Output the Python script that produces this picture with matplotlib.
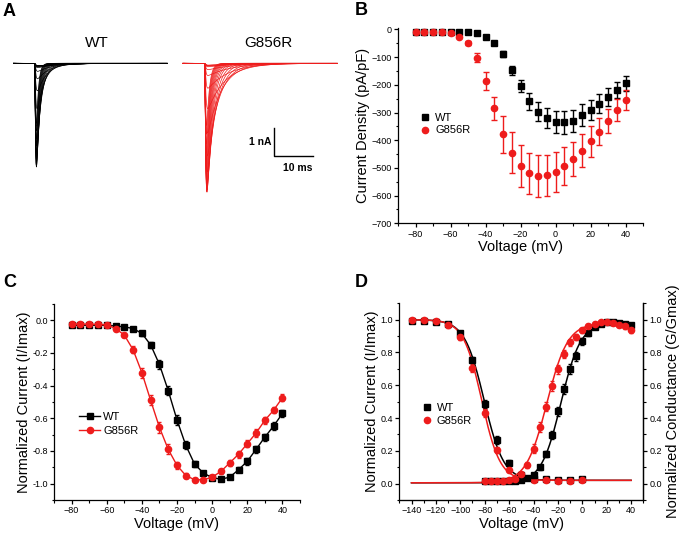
import numpy as np
import matplotlib
matplotlib.use('Agg')
from matplotlib import pyplot as plt
import matplotlib.ticker as ticker
from matplotlib.lines import Line2D

plt.rcParams['font.family'] = ['Liberation Sans', 'DejaVu Sans']

# ---- data ----
voltage_iv = np.arange(-80, 45, 5)

# B: current density (pA/pF)
wt_density = [-8, -8, -8, -8, -8, -11, -11, -14, -26, -50, -89, -147, -204, -259, -297,
              -319, -333, -336, -330, -309, -291, -268, -245, -219, -195]
wt_density_err = [3, 3, 3, 3, 3, 3, 3, 4, 5, 6, 10, 16, 23, 31, 34,
                  36, 40, 40, 40, 38, 36, 34, 32, 30, 26]
g856r_density = [-8, -8, -8, -11, -14, -26, -50, -102, -186, -285, -379, -445, -493, -520, -529,
                 -526, -514, -493, -468, -438, -404, -369, -331, -291, -255]
g856r_density_err = [3, 3, 3, 3, 3, 4, 8, 17, 33, 42, 67, 74, 75, 74, 76,
                     74, 72, 69, 63, 59, 55, 49, 44, 41, 36]

# C: normalized current (I/Imax)
wt_norm = [-0.03, -0.03, -0.03, -0.03, -0.03, -0.035, -0.04, -0.05, -0.08, -0.15, -0.27, -0.43,
           -0.61, -0.765, -0.88, -0.935, -0.963, -0.973, -0.96, -0.915, -0.863, -0.79, -0.715,
           -0.647, -0.57]
wt_norm_err = [0.01, 0.01, 0.01, 0.01, 0.01, 0.01, 0.01, 0.012, 0.015, 0.02, 0.025, 0.03,
               0.03, 0.025, 0.02, 0.015, 0.012, 0.01, 0.012, 0.015, 0.02, 0.022, 0.022,
               0.022, 0.022]
g856r_norm = [-0.023, -0.023, -0.023, -0.025, -0.027, -0.05, -0.09, -0.18, -0.32, -0.49, -0.655,
              -0.79, -0.888, -0.95, -0.976, -0.976, -0.96, -0.925, -0.873, -0.82, -0.755, -0.69,
              -0.612, -0.55, -0.474]
g856r_norm_err = [0.01, 0.01, 0.01, 0.01, 0.01, 0.01, 0.012, 0.02, 0.03, 0.03, 0.035, 0.03,
                  0.02, 0.015, 0.012, 0.01, 0.012, 0.015, 0.02, 0.022, 0.022, 0.022,
                  0.022, 0.02, 0.02]

# D: steady-state inactivation (I/Imax)
voltage_inact = np.arange(-140, 10, 10)
wt_inact = [0.99, 0.99, 0.985, 0.975, 0.918, 0.755, 0.485, 0.265, 0.127, 0.05, 0.03,
            0.027, 0.025, 0.025, 0.027]
wt_inact_err = [0.01, 0.01, 0.01, 0.012, 0.015, 0.02, 0.025, 0.025, 0.02, 0.012, 0.01,
                0.01, 0.01, 0.01, 0.01]
g856r_inact = [0.996, 0.996, 0.99, 0.965, 0.894, 0.704, 0.433, 0.204, 0.085, 0.035, 0.024,
               0.02, 0.018, 0.018, 0.02]
g856r_inact_err = [0.01, 0.01, 0.01, 0.015, 0.02, 0.025, 0.025, 0.02, 0.015, 0.01, 0.008,
                   0.008, 0.008, 0.008, 0.008]

# D: activation (G/Gmax)
wt_act = [0.014, 0.014, 0.014, 0.014, 0.014, 0.015, 0.02, 0.035, 0.05, 0.1, 0.18, 0.296,
          0.44, 0.578, 0.698, 0.776, 0.867, 0.918, 0.955, 0.975, 0.984, 0.986, 0.98,
          0.973, 0.965]
wt_act_err = [0.005, 0.005, 0.005, 0.005, 0.005, 0.005, 0.006, 0.008, 0.01, 0.015, 0.02, 0.025,
              0.03, 0.03, 0.03, 0.025, 0.02, 0.015, 0.012, 0.01, 0.01, 0.01, 0.01, 0.01, 0.012]
g856r_act = [0.014, 0.014, 0.014, 0.015, 0.02, 0.03, 0.06, 0.116, 0.214, 0.343, 0.47, 0.596,
             0.698, 0.792, 0.861, 0.894, 0.935, 0.959, 0.973, 0.984, 0.984, 0.98, 0.97,
             0.959, 0.939]
g856r_act_err = [0.005, 0.005, 0.005, 0.005, 0.006, 0.008, 0.012, 0.018, 0.025, 0.03, 0.03,
                 0.03, 0.028, 0.025, 0.02, 0.018, 0.015, 0.012, 0.01, 0.01, 0.01, 0.01, 0.012,
                 0.015, 0.018]

# Boltzmann fit parameters (V1/2, slope k)
wt_inact_fit = (-80.5, 8.0)
g856r_inact_fit = (-82.5, 7.5)
wt_act_fit = (-17.5, 8.0)
g856r_act_fit = (-29.0, 8.5)

# A: sweep parameters (peak current nA scaled from B, inactivation tau ms)
wt_peak_na = 3.7
g856r_peak_na = 4.6
wt_tau_h = [6.0, 6.0, 6.0, 6.0, 6.0, 5.8, 5.4, 4.8, 4.0, 3.2, 2.5, 1.9, 1.5, 1.25, 1.05,
            0.92, 0.83, 0.76, 0.7, 0.65, 0.61, 0.58, 0.55, 0.52, 0.5]
g856r_tau_h = [7.5, 7.5, 7.5, 7.5, 7.2, 6.8, 6.2, 5.4, 4.5, 3.6, 2.9, 2.4, 2.0, 1.7, 1.45,
               1.28, 1.14, 1.03, 0.95, 0.88, 0.82, 0.77, 0.73, 0.7, 0.67]

W, H = 683, 536
RED = '#ee1c1c'


def px_axes(fig, left, top, right, bottom):
    return fig.add_axes([left / W, 1 - bottom / H, (right - left) / W, (bottom - top) / H])


def style_axe(ax, right=False):
    ax.spines['top'].set_visible(False)
    if not right:
        ax.spines['right'].set_visible(False)
    for s in ax.spines.values():
        s.set_linewidth(0.9)
    ax.tick_params(which='major', direction='out', length=3, width=0.9, pad=1.5, labelsize=6.5)
    ax.tick_params(which='minor', direction='out', length=1.8, width=0.8)


def sweep(t, peak, tau_h, t0=5.5, tau_m=0.2):
    tt = np.clip(t - t0, 0, None)
    shape = (1 - np.exp(-tt / tau_m)) ** 3 * np.exp(-tt / tau_h)
    return -peak * shape / shape.max()


def handles(line=False):
    ls = '-' if line else 'none'
    return [Line2D([], [], color='black', marker='s', ms=4, ls=ls, lw=1.0),
            Line2D([], [], color=RED, marker='o', ms=4.5, ls=ls, lw=1.0)]


fig = plt.figure(figsize=(W / 100, H / 100), dpi=100)

# ---- A ----
axa = px_axes(fig, 13, 30, 338, 200)
axa.axis('off')
axa.set_xlim(0, 83.33)
axa.set_ylim(-4.88, 1.19)
t = np.linspace(0, 39.5, 4000)
wt_rel = np.array(wt_density) / min(wt_density)
g_rel = np.array(g856r_density) / min(g856r_density)
for i in range(len(voltage_iv)):
    axa.plot(t, sweep(t, wt_peak_na * wt_rel[i], wt_tau_h[i]), color='black', lw=0.5)
    axa.plot(t + 43.6, sweep(t, g856r_peak_na * g_rel[i], g856r_tau_h[i]), color=RED, lw=0.5)
axa.text(21.5, 0.72, 'WT', ha='center', va='center', fontsize=11)
axa.text(65.4, 0.72, 'G856R', ha='center', va='center', fontsize=11)
axa.plot([66.9, 66.9, 76.9], [-2.31, -3.31, -3.31], color='black', lw=1.0)
axa.text(66.4, -2.81, '1 nA', ha='right', va='center', fontsize=7.5, fontweight='bold')
axa.text(73.0, -3.72, '10 ms', ha='center', va='center', fontsize=7.5, fontweight='bold')

# ---- B ----
axb = px_axes(fig, 398, 28.3, 643, 223.3)
style_axe(axb)
axb.errorbar(voltage_iv, wt_density, yerr=wt_density_err, fmt='s', color='black', ms=4,
             elinewidth=1.0, capsize=2, capthick=1.0)
axb.errorbar(voltage_iv, g856r_density, yerr=g856r_density_err, fmt='o', color=RED, ms=4.5,
             elinewidth=1.0, capsize=2, capthick=1.0)
axb.set_xlim(-90, 50)
axb.set_ylim(-700, 4)
axb.xaxis.set_major_locator(ticker.MultipleLocator(20))
axb.xaxis.set_minor_locator(ticker.MultipleLocator(10))
axb.yaxis.set_major_locator(ticker.MultipleLocator(100))
axb.yaxis.set_minor_locator(ticker.MultipleLocator(50))
axb.set_xlabel('Voltage (mV)', fontsize=10.5, labelpad=1)
axb.set_ylabel('Current Density (pA/pF)', fontsize=10.5, labelpad=1)
axb.legend(handles(), ['WT', 'G856R'], loc='upper left', bbox_to_anchor=(0.08, 0.59),
           frameon=False, fontsize=8, handlelength=0.6, handletextpad=0.6,
           labelspacing=0.25, borderaxespad=0)

# ---- C ----
axc = px_axes(fig, 54, 304, 300, 500)
style_axe(axc)
axc.errorbar(voltage_iv, wt_norm, yerr=wt_norm_err, fmt='-s', color='black', ms=4, lw=1.0,
             elinewidth=1.0, capsize=1.5)
axc.errorbar(voltage_iv, g856r_norm, yerr=g856r_norm_err, fmt='-o', color=RED, ms=4.5, lw=1.0,
             elinewidth=1.0, capsize=1.5)
axc.set_xlim(-90, 50)
axc.set_ylim(-1.1, 0.1)
axc.xaxis.set_major_locator(ticker.MultipleLocator(20))
axc.xaxis.set_minor_locator(ticker.MultipleLocator(10))
axc.yaxis.set_major_locator(ticker.MultipleLocator(0.2))
axc.yaxis.set_minor_locator(ticker.MultipleLocator(0.1))
axc.yaxis.set_major_formatter(ticker.FormatStrFormatter('%.1f'))
axc.set_xlabel('Voltage (mV)', fontsize=10.5, labelpad=1)
axc.set_ylabel('Normalized Current (I/Imax)', fontsize=10.5, labelpad=1)
axc.legend(handles(True), ['WT', 'G856R'], loc='upper left', bbox_to_anchor=(0.085, 0.47),
           frameon=False, fontsize=8, handlelength=1.9, handletextpad=0.25,
           labelspacing=0.3, borderaxespad=0)

# ---- D ----
axd = px_axes(fig, 399.3, 303.3, 643.3, 500)
style_axe(axd, right=True)
vfit = np.linspace(-140, 40, 400)
for (vh, k), col in ((wt_inact_fit, 'black'), (g856r_inact_fit, RED)):
    axd.plot(vfit, 0.98 / (1 + np.exp((vfit - vh) / k)) + 0.02, color=col, lw=1.1)
for (vh, k), col in ((wt_act_fit, 'black'), (g856r_act_fit, RED)):
    axd.plot(vfit, 0.975 / (1 + np.exp((vh - vfit) / k)) + 0.005, color=col, lw=1.1)
axd.errorbar(voltage_inact, wt_inact, yerr=wt_inact_err, fmt='s', color='black', ms=4,
             elinewidth=1.0, capsize=1.5)
axd.errorbar(voltage_inact, g856r_inact, yerr=g856r_inact_err, fmt='o', color=RED, ms=4.5,
             elinewidth=1.0, capsize=1.5)
axd.errorbar(voltage_iv, wt_act, yerr=wt_act_err, fmt='s', color='black', ms=4,
             elinewidth=1.0, capsize=1.5)
axd.errorbar(voltage_iv, g856r_act, yerr=g856r_act_err, fmt='o', color=RED, ms=4.5,
             elinewidth=1.0, capsize=1.5)
axd.set_xlim(-150, 50)
axd.set_ylim(-0.1, 1.1)
axd.xaxis.set_major_locator(ticker.MultipleLocator(20))
axd.xaxis.set_minor_locator(ticker.MultipleLocator(10))
axd.yaxis.set_major_locator(ticker.MultipleLocator(0.2))
axd.yaxis.set_minor_locator(ticker.MultipleLocator(0.1))
axd.yaxis.set_major_formatter(ticker.FuncFormatter(lambda v, p: '%.1f' % v if v >= 0 else ''))
axd.set_xlabel('Voltage (mV)', fontsize=10.5, labelpad=1)
axd.set_ylabel('Normalized Current (I/Imax)', fontsize=10.5, labelpad=1)
axd.legend(handles(), ['WT', 'G856R'], loc='upper left', bbox_to_anchor=(0.08, 0.515),
           frameon=False, fontsize=8, handlelength=0.6, handletextpad=0.6,
           labelspacing=0.25, borderaxespad=0)
axd2 = axd.twinx()
axd2.spines['top'].set_visible(False)
axd2.spines['left'].set_visible(False)
axd2.spines['right'].set_linewidth(0.9)
axd2.set_ylim(-0.1, 1.1)
axd2.yaxis.set_major_locator(ticker.MultipleLocator(0.2))
axd2.yaxis.set_minor_locator(ticker.MultipleLocator(0.1))
axd2.yaxis.set_major_formatter(ticker.FuncFormatter(lambda v, p: '%.1f' % v if v >= 0 else ''))
axd2.tick_params(which='major', direction='out', length=3, width=0.9, pad=1.5, labelsize=6.5)
axd2.tick_params(which='minor', direction='out', length=1.8, width=0.8)
axd2.set_ylabel('Normalized Conductance (G/Gmax)', fontsize=10.5, labelpad=3)

# panel letters
for letter, x, y in (('A', 3, 3), ('B', 355, 2), ('C', 3, 274), ('D', 355, 274)):
    fig.text(x / W, 1 - y / H, letter, fontsize=13, fontweight='bold', va='top', ha='left')

fig.savefig('out.png', dpi=100)
